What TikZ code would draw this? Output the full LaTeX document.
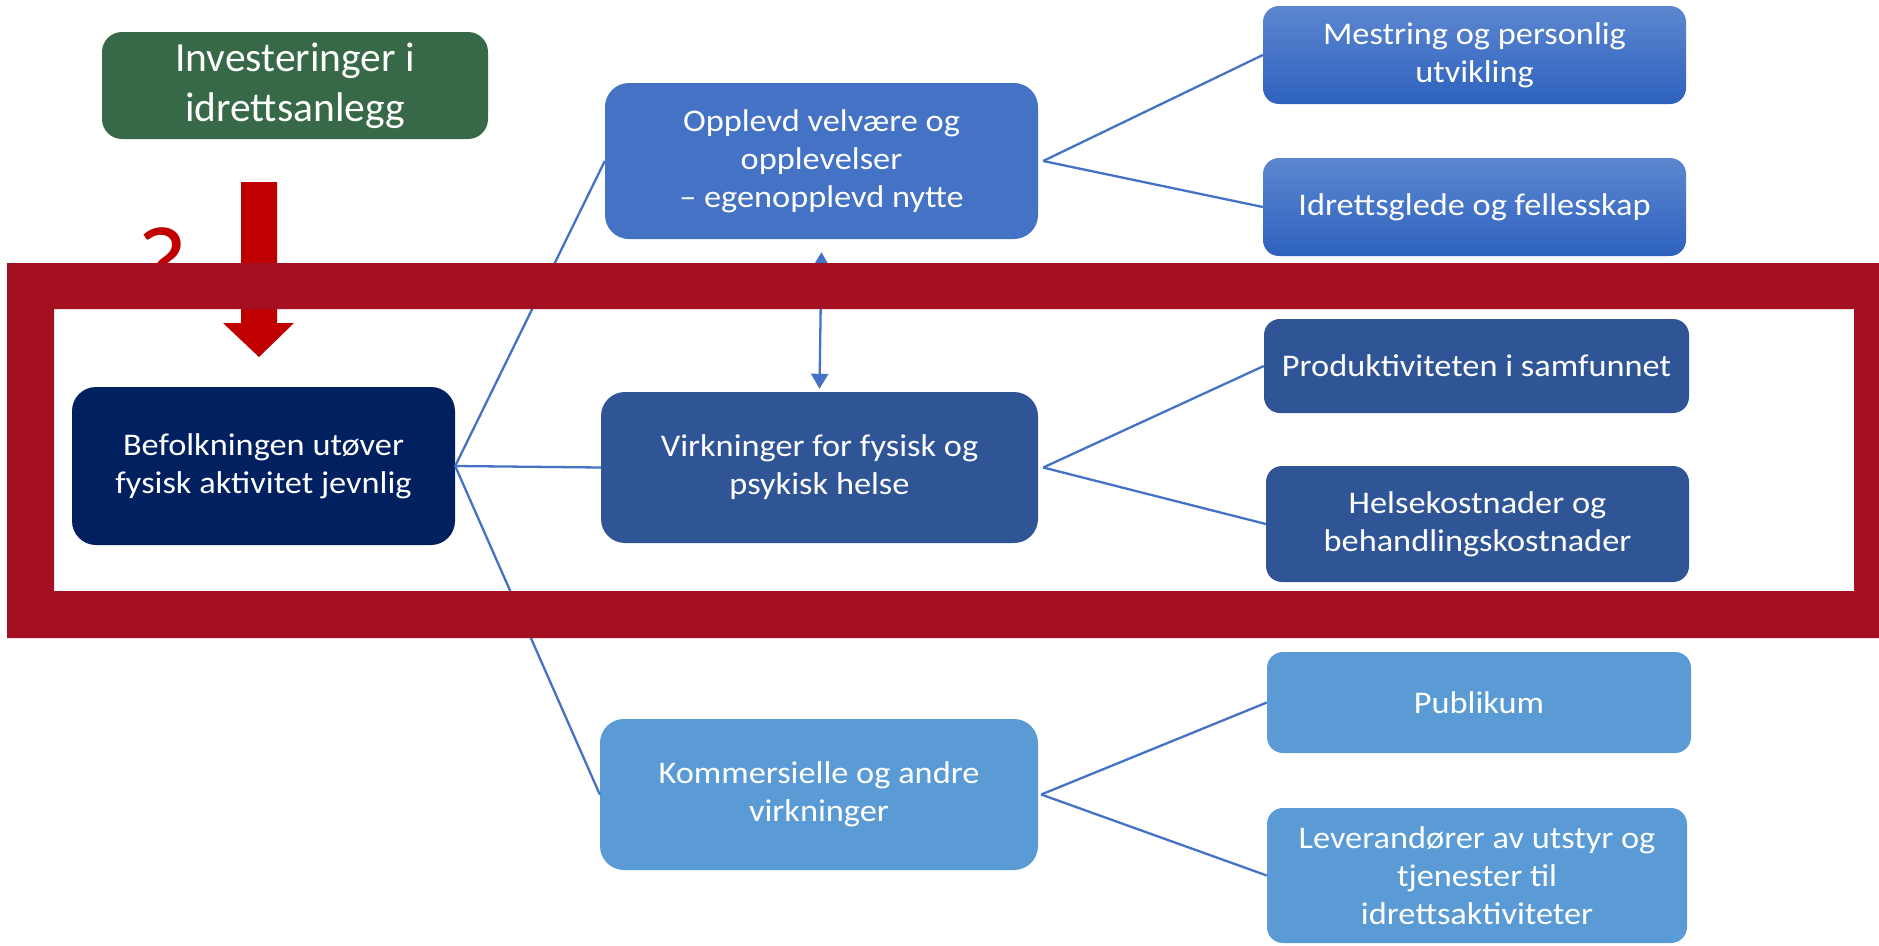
\documentclass[tikz,border=0pt]{standalone}
\usepackage{fontspec}
\setmainfont{Carlito}
\newfontfamily\boxfont[FakeStretch=1.09]{Carlito}
\usetikzlibrary{arrows.meta}
\definecolor{greenbox}{RGB}{55,105,72}
\definecolor{navy}{RGB}{0,32,96}
\definecolor{midblue}{RGB}{47,85,151}
\definecolor{accblue}{RGB}{68,114,196}
\definecolor{lightblue}{RGB}{91,155,213}
\definecolor{gradtop}{RGB}{92,135,208}
\definecolor{gradbot}{RGB}{46,98,190}
\definecolor{arrowred}{RGB}{192,0,0}
\definecolor{framered}{RGB}{164,15,34}
\definecolor{linecol}{RGB}{68,114,196}
\tikzset{
  box/.style={rounded corners=16pt, inner sep=0pt, align=center, text=white,
    font=\boxfont\fontsize{31.5}{38}\selectfont},
  bigbox/.style={box, rounded corners=24pt},
  conn/.style={draw=linecol, line width=2.3pt},
  dbl/.style={conn, {Triangle[width=17pt,length=15pt]}-{Triangle[width=17pt,length=15pt]}}
}
\begin{document}
\begin{tikzpicture}[x=1pt,y=-1pt]
\useasboundingbox (0,0) rectangle (1879,945);
\fill[white] (0,0) rectangle (1879,945);

% top-left green box
\node[box, rounded corners=20pt, fill=greenbox, minimum width=386pt, minimum height=107pt,
  font=\fontsize{41.5}{50}\selectfont] (invest) at (295,85.5) {Investeringer i\\idrettsanlegg};

% main boxes
\node[bigbox, fill=navy, minimum width=383pt, minimum height=158pt] (befolk) at (263.5,466)
  {Befolkningen utøver\\fysisk aktivitet jevnlig};
\node[bigbox, fill=accblue, minimum width=433pt, minimum height=156pt] (opp) at (821.5,161)
  {Opplevd velvære og\\opplevelser\\– egenopplevd nytte};
\node[bigbox, fill=midblue, minimum width=437pt, minimum height=151pt] (virk) at (819.5,467.5)
  {Virkninger for fysisk og\\psykisk helse};
\node[bigbox, fill=lightblue, minimum width=438pt, minimum height=151pt] (komm) at (819,794.5)
  {Kommersielle og andre\\virkninger};

% right boxes
\node[box, top color=gradtop, bottom color=gradbot, minimum width=423pt, minimum height=98pt] (mest) at (1474.5,55)
  {Mestring og personlig\\utvikling};
\node[box, top color=gradtop, bottom color=gradbot, minimum width=423pt, minimum height=98pt] (idr) at (1474.5,207)
  {Idrettsglede og fellesskap};
\node[box, fill=midblue, minimum width=425pt, minimum height=94pt] (prod) at (1476.5,366)
  {Produktiviteten i samfunnet};
\node[box, fill=midblue, minimum width=423pt, minimum height=116pt] (hels) at (1477.5,524)
  {Helsekostnader og\\behandlingskostnader};
\node[box, fill=lightblue, minimum width=424pt, minimum height=101pt] (pub) at (1479,702.5)
  {Publikum};
\node[box, fill=lightblue, minimum width=420pt, minimum height=135pt] (lev) at (1477,875.5)
  {Leverandører av utstyr og\\tjenester til\\idrettsaktiviteter};

% connectors
\draw[conn] (befolk.east) -- (opp.west);
\draw[conn] (befolk.east) -- (virk.west);
\draw[conn] (befolk.east) -- (komm.west);
\draw[conn] ([xshift=5pt]opp.east) -- (mest.west);
\draw[conn] ([xshift=5pt]opp.east) -- (idr.west);
\draw[conn] ([xshift=5pt]virk.east) -- (prod.west);
\draw[conn] ([xshift=5pt]virk.east) -- (hels.west);
\draw[conn] ([xshift=3pt]komm.east) -- (pub.west);
\draw[conn] ([xshift=3pt]komm.east) -- (lev.west);
\draw[dbl] ([yshift=-13pt]opp.south) -- ([yshift=3pt]virk.north);

% red question mark and block arrow
\node[anchor=base west, inner sep=0pt, text=arrowred, font=\fontsize{108}{120}\selectfont] (qmark) at (137,301) {?};
\fill[arrowred] (241,182) -- (277,182) -- (277,323) -- (294,323) -- (259,357) -- (223,323) -- (241,323) -- cycle;

% red frame
\fill[framered, even odd rule] (7,263) rectangle (1879,638) (54,309) rectangle (1854,591);
\end{tikzpicture}
\end{document}
